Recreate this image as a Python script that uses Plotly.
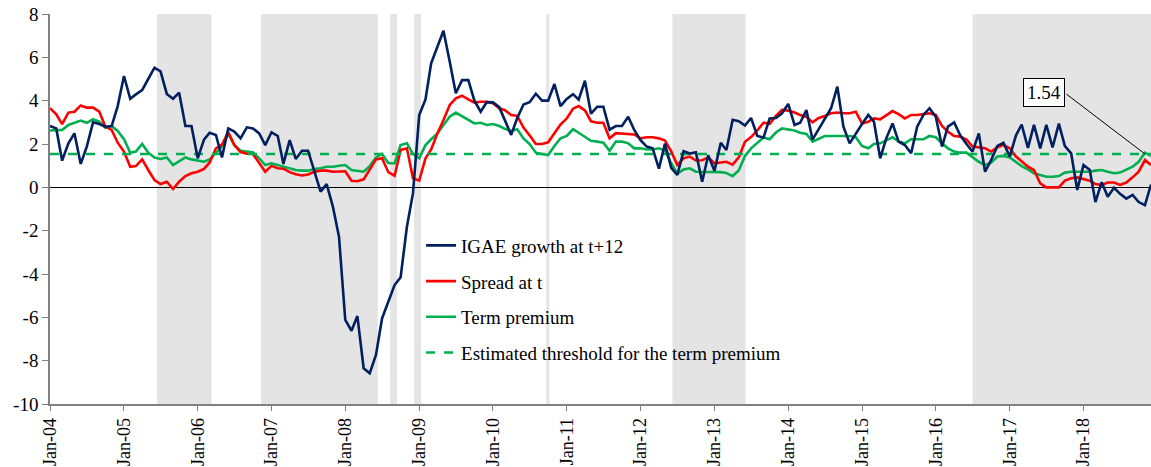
import pandas as pd
import plotly.graph_objects as go

start_month = "2004-01-01"
n_months = 180

igae = [
    2.83, 2.72, 1.23, 2.03, 2.49, 1.08, 1.88, 3.0, 2.92, 2.8, 2.83, 3.75,
    5.14, 4.09, 4.29, 4.49, 5.0, 5.52, 5.35, 4.31, 4.09, 4.37, 2.83, 2.83,
    1.34, 2.2, 2.52, 2.42, 1.38, 2.72, 2.57, 2.26, 2.77, 2.72, 2.49, 1.95,
    2.54, 2.37, 1.08, 2.18, 1.31, 1.69, 1.69, 0.8, -0.2, 0.15, -0.9, -2.28,
    -6.12, -6.62, -5.94, -8.35, -8.58, -7.74, -6.05, -5.28, -4.51, -4.15, -1.82, -0.28,
    3.34, 4.06, 5.72, 6.49, 7.23, 5.8, 4.34, 4.95, 4.95, 4.0, 3.49, 3.93,
    3.92, 3.7, 3.05, 2.42, 3.2, 3.82, 3.93, 4.32, 4.0, 4.0, 4.77, 3.75,
    4.08, 4.3, 4.05, 4.92, 3.4, 3.72, 3.72, 2.66, 2.83, 2.83, 3.26, 2.65,
    2.18, 1.88, 1.8, 0.86, 2.02, 0.9, 0.57, 1.67, 1.56, 1.62, 0.26, 1.48,
    0.76, 2.06, 1.72, 3.12, 3.05, 2.85, 3.2, 2.37, 2.3, 3.18, 3.2, 3.42,
    3.85, 2.88, 2.98, 3.57, 2.2, 2.7, 3.2, 3.65, 4.65, 2.8, 2.03, 2.49,
    2.92, 3.34, 3.03, 1.34, 2.26, 2.95, 2.11, 1.95, 1.57, 2.8, 3.34, 3.65,
    3.26, 1.88, 2.8, 3.0, 2.4, 2.0, 1.65, 2.49, 0.72, 1.26, 1.91, 2.06,
    1.42, 2.4, 2.9, 1.82, 2.88, 1.8, 2.88, 1.84, 2.94, 1.9, 1.57, -0.12,
    1.03, 0.8, -0.68, 0.24, -0.43, -0.02, -0.3, -0.52, -0.35, -0.68, -0.82, 0.13,
]

spread = [
    3.65, 3.37, 2.92, 3.45, 3.49, 3.78, 3.68, 3.68, 3.49, 2.8, 2.65, 2.06,
    1.65, 0.95, 0.98, 1.29, 0.8, 0.34, 0.15, 0.26, -0.08, 0.26, 0.52, 0.65,
    0.72, 0.85, 1.15, 1.8, 1.97, 2.55, 1.95, 1.63, 1.55, 1.54, 1.12, 0.72,
    0.99, 0.88, 0.86, 0.7, 0.6, 0.55, 0.59, 0.72, 0.77, 0.77, 0.72, 0.73,
    0.74, 0.3, 0.28, 0.37, 0.8, 1.29, 1.34, 0.7, 0.53, 1.72, 1.8, 0.42,
    0.31, 1.34, 1.75, 2.49, 3.11, 3.8, 4.11, 4.23, 4.06, 3.91, 3.95, 3.95,
    3.88, 3.65, 3.56, 3.34, 3.3, 2.76, 2.4, 2.0, 2.0, 2.08, 2.5, 2.9,
    3.18, 3.63, 3.75, 3.55, 3.05, 2.98, 2.98, 2.26, 2.5, 2.49, 2.47, 2.44,
    2.26, 2.31, 2.31, 2.26, 2.16, 1.66, 1.03, 1.34, 1.42, 1.24, 1.25, 1.38,
    1.11, 1.14, 1.18, 1.05, 1.38, 2.1, 2.32, 2.63, 2.98, 2.93, 3.3, 3.57,
    3.54, 3.45, 3.34, 3.26, 3.0, 3.2, 3.29, 3.42, 3.45, 3.42, 3.42, 3.49,
    2.95, 3.03, 3.18, 3.14, 3.34, 3.52, 3.38, 3.18, 3.34, 3.34, 3.38, 3.42,
    3.34, 2.83, 2.57, 2.37, 2.34, 2.2, 1.88, 1.85, 1.8, 1.65, 1.85, 1.95,
    1.8, 1.42, 1.18, 0.95, 0.8, 0.18, 0.0, 0.0, 0.0, 0.31, 0.42, 0.46,
    0.37, 0.31, 0.15, 0.11, 0.22, 0.22, 0.11, 0.22, 0.46, 0.72, 1.26, 1.03,
]

term_premium = [
    2.62, 2.65, 2.65, 2.88, 2.98, 3.08, 2.98, 3.14, 3.03, 2.75, 2.83, 2.6,
    2.22, 1.6, 1.65, 2.0, 1.6, 1.38, 1.31, 1.38, 1.03, 1.22, 1.38, 1.29,
    1.22, 1.18, 1.29, 1.57, 1.88, 2.49, 1.95, 1.69, 1.65, 1.62, 1.34, 1.03,
    1.11, 1.03, 0.95, 0.85, 0.8, 0.77, 0.77, 0.85, 0.88, 0.95, 0.95, 1.0,
    1.03, 0.8, 0.77, 0.72, 0.98, 1.38, 1.54, 1.12, 1.1, 1.95, 2.03, 1.54,
    1.34, 1.95, 2.22, 2.49, 2.88, 3.26, 3.45, 3.29, 3.14, 2.95, 2.98, 2.88,
    2.92, 2.83, 2.7, 2.6, 2.68, 2.26, 2.0, 1.6, 1.54, 1.49, 1.91, 2.26,
    2.37, 2.68, 2.52, 2.34, 2.15, 2.11, 2.06, 1.69, 2.11, 2.11, 2.03, 1.8,
    1.8, 1.75, 1.75, 1.8, 1.7, 1.11, 0.63, 0.82, 0.88, 0.72, 0.72, 0.72,
    0.72, 0.7, 0.66, 0.52, 0.78, 1.45, 1.8, 2.03, 2.3, 2.22, 2.53, 2.72,
    2.68, 2.62, 2.52, 2.46, 2.11, 2.26, 2.37, 2.37, 2.37, 2.37, 2.37, 2.31,
    1.91, 1.8, 2.0, 2.03, 2.18, 2.31, 2.11, 2.03, 2.22, 2.22, 2.22, 2.37,
    2.31, 2.03, 1.8, 1.65, 1.6, 1.6, 1.4, 1.18, 1.03, 1.14, 1.42, 1.45,
    1.38, 1.18, 0.98, 0.83, 0.65, 0.57, 0.49, 0.49, 0.52, 0.68, 0.72, 0.72,
    0.72, 0.72, 0.77, 0.8, 0.72, 0.65, 0.68, 0.8, 0.95, 1.18, 1.6, 1.45,
]

threshold = 1.54

# shaded periods (start, end)
shaded_periods = [
    ("2005-06-13", "2006-03-10"),
    ("2006-11-10", "2008-06-10"),
    ("2008-08-10", "2008-09-13"),
    ("2008-12-07", "2009-01-10"),
    ("2010-09-22", "2010-10-07"),
    ("2012-06-07", "2013-06-04"),
    ("2016-07-01", "2018-12-31"),
]

series_names = [
    "IGAE growth at t+12",
    "Spread at t",
    "Term premium",
    "Estimated threshold for the term premium",
]

y_ticks = [-10, -8, -6, -4, -2, 0, 2, 4, 6, 8]

dates = pd.date_range(start_month, periods=n_months, freq="MS")
tick_dates = pd.date_range(start_month, dates[-1], freq="12MS")
tick_text = [d.strftime("%b-%y") for d in tick_dates]

FONT = "Liberation Serif"
NAVY = "#002060"
RED = "#FF0000"
GREEN = "#00B050"

fig = go.Figure()

for x0, x1 in shaded_periods:
    fig.add_shape(type="rect", xref="x", yref="paper", x0=x0, x1=x1, y0=0, y1=1,
                  fillcolor="#E4E4E4", line_width=0, layer="below")

fig.add_trace(go.Scatter(x=dates, y=term_premium, mode="lines", name=series_names[2],
                         line=dict(color=GREEN, width=2.6), legendgroup="c", legendrank=3))
fig.add_trace(go.Scatter(x=dates, y=spread, mode="lines", name=series_names[1],
                         line=dict(color=RED, width=2.6), legendgroup="b", legendrank=2))
fig.add_trace(go.Scatter(x=dates, y=[threshold] * n_months, mode="lines", name=series_names[3],
                         line=dict(color=GREEN, width=2.6, dash="dash"), legendgroup="d", legendrank=4))
fig.add_trace(go.Scatter(x=dates, y=igae, mode="lines", name=series_names[0],
                         line=dict(color=NAVY, width=2.6), legendgroup="a", legendrank=1))

# annotation for threshold value
ann_date = dates[-2]
fig.add_annotation(x=ann_date, y=threshold, xref="x", yref="y", text="",
                   showarrow=True, arrowhead=0, arrowwidth=1, arrowcolor="#000000",
                   ax=-80, ay=-61, standoff=0, startstandoff=0)
fig.add_annotation(x=ann_date, y=threshold, xref="x", yref="y", text=f"{threshold:.2f}",
                   showarrow=False, xanchor="right", yanchor="middle",
                   xshift=-80, yshift=61, bordercolor="#000000", borderwidth=1,
                   borderpad=3, bgcolor="#FFFFFF",
                   font=dict(family=FONT, size=19, color="#000000"))

fig.update_layout(
    width=1151, height=467,
    margin=dict(l=50, r=0, t=14, b=63, autoexpand=False),
    paper_bgcolor="#FFFFFF", plot_bgcolor="#FFFFFF",
    font=dict(family=FONT, size=19, color="#000000"),
    showlegend=True,
    legend=dict(x=0.337, y=0.455, xanchor="left", yanchor="top",
                bgcolor="rgba(0,0,0,0)", tracegroupgap=8,
                font=dict(family=FONT, size=19, color="#000000")),
    xaxis=dict(
        range=[dates[0], dates[-1]], tickmode="array", tickvals=tick_dates, ticktext=tick_text,
        tickangle=-90, showgrid=False, showline=True, linecolor="#808080", linewidth=1.5,
        ticks="outside", ticklen=5, tickcolor="#808080", zeroline=False,
        tickfont=dict(family=FONT, size=18), automargin=False, ticklabeloverflow="allow",
    ),
    yaxis=dict(
        range=[-10, 8], tickmode="array", tickvals=y_ticks, ticktext=[str(v) for v in y_ticks],
        showgrid=False, showline=True, linecolor="#808080", linewidth=1.5,
        ticks="outside", ticklen=6, tickcolor="#808080",
        zeroline=True, zerolinecolor="#000000", zerolinewidth=1,
        tickfont=dict(family=FONT, size=19), automargin=False, ticklabeloverflow="allow",
    ),
)

fig.write_html(
    "out.html",
    config={"displayModeBar": False},
    post_script="document.body.style.margin='0px';document.body.style.overflow='hidden';",
)
